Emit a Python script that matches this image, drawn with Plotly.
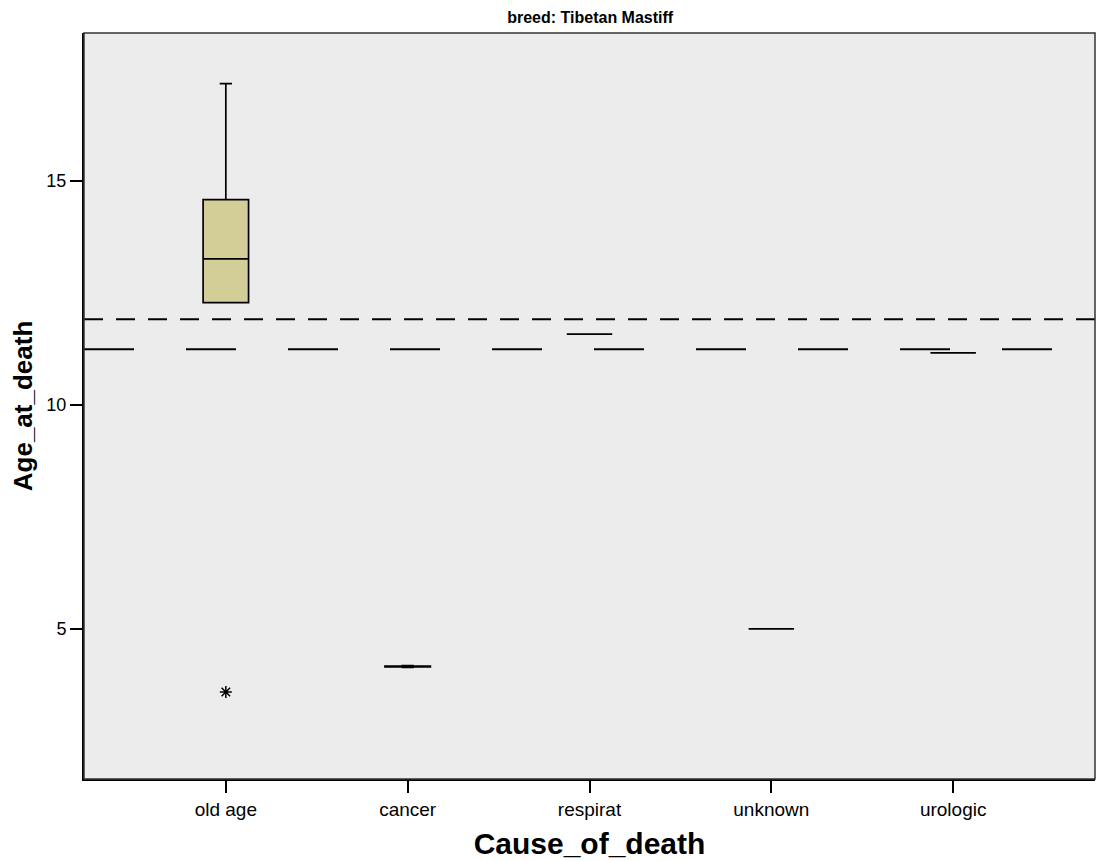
import plotly.graph_objects as go

# ---- data ----
categories = ["old age", "cancer", "respirat", "unknown", "urologic"]
q1_vals = [12.28, 4.15, 11.58, 5.00, 11.16]
median_vals = [13.26, 4.16, 11.58, 5.00, 11.16]
q3_vals = [14.58, 4.17, 11.58, 5.00, 11.16]
lower_fences = [12.28, 4.14, 11.58, 5.00, 11.16]
upper_fences = [17.17, 4.18, 11.58, 5.00, 11.16]
extreme_cats = ["old age"]
extreme_vals = [3.59]
ref_short_dash = 11.91
ref_long_dash = 11.24
y_ticks = [5, 10, 15]

BOX_FILL = "#D3CE98"
BG = "#ECECEC"
FONT = "Liberation Sans, Arial, sans-serif"

fig = go.Figure()

for i, c in enumerate(categories):
    fig.add_trace(go.Box(
        x=[c],
        q1=[q1_vals[i]], median=[median_vals[i]], q3=[q3_vals[i]],
        lowerfence=[lower_fences[i]], upperfence=[upper_fences[i]],
        width=0.25, whiskerwidth=0.27,
        fillcolor=BOX_FILL,
        line=dict(color="black", width=1.7),
        boxpoints=False, showlegend=False, hoverinfo="skip",
    ))

fig.add_trace(go.Scatter(
    x=extreme_cats, y=extreme_vals, mode="markers",
    marker=dict(symbol="asterisk-open", size=10, color="black",
                line=dict(color="black", width=1.5)),
    showlegend=False, hoverinfo="skip",
))

fig.add_hline(y=ref_short_dash, line=dict(color="black", width=2, dash="19px,13px"))
fig.add_hline(y=ref_long_dash, line=dict(color="black", width=2, dash="50px,52px"))

# frame (top/right thinner gray)
fig.add_shape(type="rect", xref="paper", yref="paper", x0=0, x1=1, y0=0, y1=1,
              line=dict(color="#333333", width=1.5), fillcolor="rgba(0,0,0,0)", layer="above")

fig.update_layout(
    width=1096, height=861,
    margin=dict(l=84, r=1, t=33, b=82),
    paper_bgcolor="white", plot_bgcolor=BG,
    font=dict(family=FONT, color="black", size=19),
    title=dict(text="<b>breed: Tibetan Mastiff</b>", x=0.5385, xanchor="center",
               y=0.98, yanchor="middle", font=dict(size=16, family=FONT)),
    showlegend=False,
)

fig.update_xaxes(
    type="category", categoryorder="array", categoryarray=categories,
    range=[-0.78, 4.78],
    showline=True, linecolor="black", linewidth=2,
    ticks="outside", ticklen=12, tickwidth=2, tickcolor="black",
    showgrid=False, zeroline=False,
    tickfont=dict(size=19, family=FONT),
    title=dict(text="<b>Cause_of_death</b>", font=dict(size=30, family=FONT), standoff=14),
)
fig.update_yaxes(
    range=[1.65, 18.3],
    tickvals=y_ticks, ticktext=[str(v) for v in y_ticks],
    showline=True, linecolor="black", linewidth=2,
    ticks="outside", ticklen=12, tickwidth=2, tickcolor="black",
    showgrid=False, zeroline=False,
    tickfont=dict(size=18, family=FONT),
    title=dict(text="<b>Age_at_death</b>", font=dict(size=26, family=FONT), standoff=6),
)

fig.write_html("out.html", config={"displayModeBar": False},
               post_script="document.body.style.margin='0';document.body.style.overflow='hidden';")
